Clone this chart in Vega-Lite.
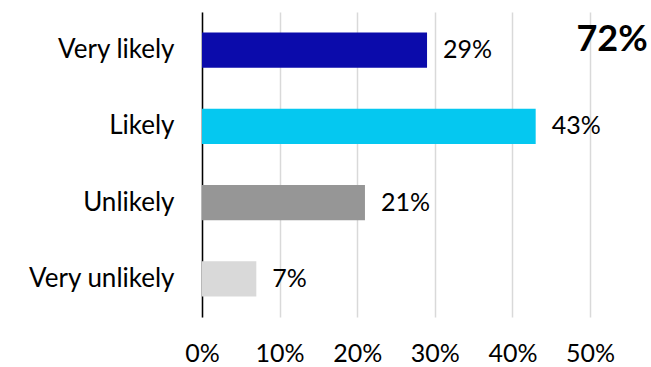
{
  "$schema": "https://vega.github.io/schema/vega-lite/v6.json",
  "width": 388,
  "height": 305,
  "autosize": {"type": "none"},
  "padding": {"left": 202, "top": 12, "right": 61, "bottom": 50},
  "background": "white",
  "config": {
    "view": {"stroke": null},
    "font": "Lato"
  },
  "data": {
    "values": [
      {"response": "Very likely", "share": 0.29, "label": "29%"},
      {"response": "Likely", "share": 0.43, "label": "43%"},
      {"response": "Unlikely", "share": 0.21, "label": "21%"},
      {"response": "Very unlikely", "share": 0.07, "label": "7%"}
    ]
  },
  "layer": [
    {
      "mark": {"type": "bar"},
      "encoding": {
        "y": {
          "field": "response",
          "type": "nominal",
          "sort": ["Very likely", "Likely", "Unlikely", "Very unlikely"],
          "scale": {"paddingInner": 0.54, "paddingOuter": 0.27},
          "axis": {
            "title": null,
            "ticks": false,
            "domainColor": "#000000",
            "domainWidth": 1.5,
            "labelFont": "Lato",
            "labelFontSize": 26,
            "labelColor": "#000000",
            "labelPadding": 28
          }
        },
        "x": {
          "field": "share",
          "type": "quantitative",
          "scale": {"domain": [0, 0.5]},
          "axis": {
            "title": null,
            "format": ".0%",
            "values": [0, 0.1, 0.2, 0.3, 0.4, 0.5],
            "domain": false,
            "ticks": false,
            "gridColor": "#D9D9D9",
            "gridWidth": 1.5,
            "labelFont": "Lato",
            "labelFontSize": 25,
            "labelColor": "#000000",
            "labelPadding": 24,
            "labelFlush": false,
            "labelOverlap": false
          }
        },
        "color": {
          "field": "response",
          "type": "nominal",
          "scale": {
            "domain": ["Very likely", "Likely", "Unlikely", "Very unlikely"],
            "range": ["#0B0BAB", "#05C8F0", "#969696", "#D9D9D9"]
          },
          "legend": null
        }
      }
    },
    {
      "mark": {"type": "text", "align": "left", "dx": 16, "fontSize": 25, "font": "Lato", "color": "#000000"},
      "encoding": {
        "y": {"field": "response", "type": "nominal", "sort": ["Very likely", "Likely", "Unlikely", "Very unlikely"]},
        "x": {"field": "share", "type": "quantitative"},
        "text": {"field": "label"}
      }
    },
    {
      "data": {"values": [{"response": "Very likely", "pos": 0.5, "total": "72%"}]},
      "mark": {"type": "text", "align": "center", "dx": 22, "dy": -10, "fontSize": 36, "fontWeight": "bold", "font": "Lato", "color": "#000000"},
      "encoding": {
        "y": {"field": "response", "type": "nominal", "sort": ["Very likely", "Likely", "Unlikely", "Very unlikely"]},
        "x": {"field": "pos", "type": "quantitative"},
        "text": {"field": "total"}
      }
    }
  ]
}
